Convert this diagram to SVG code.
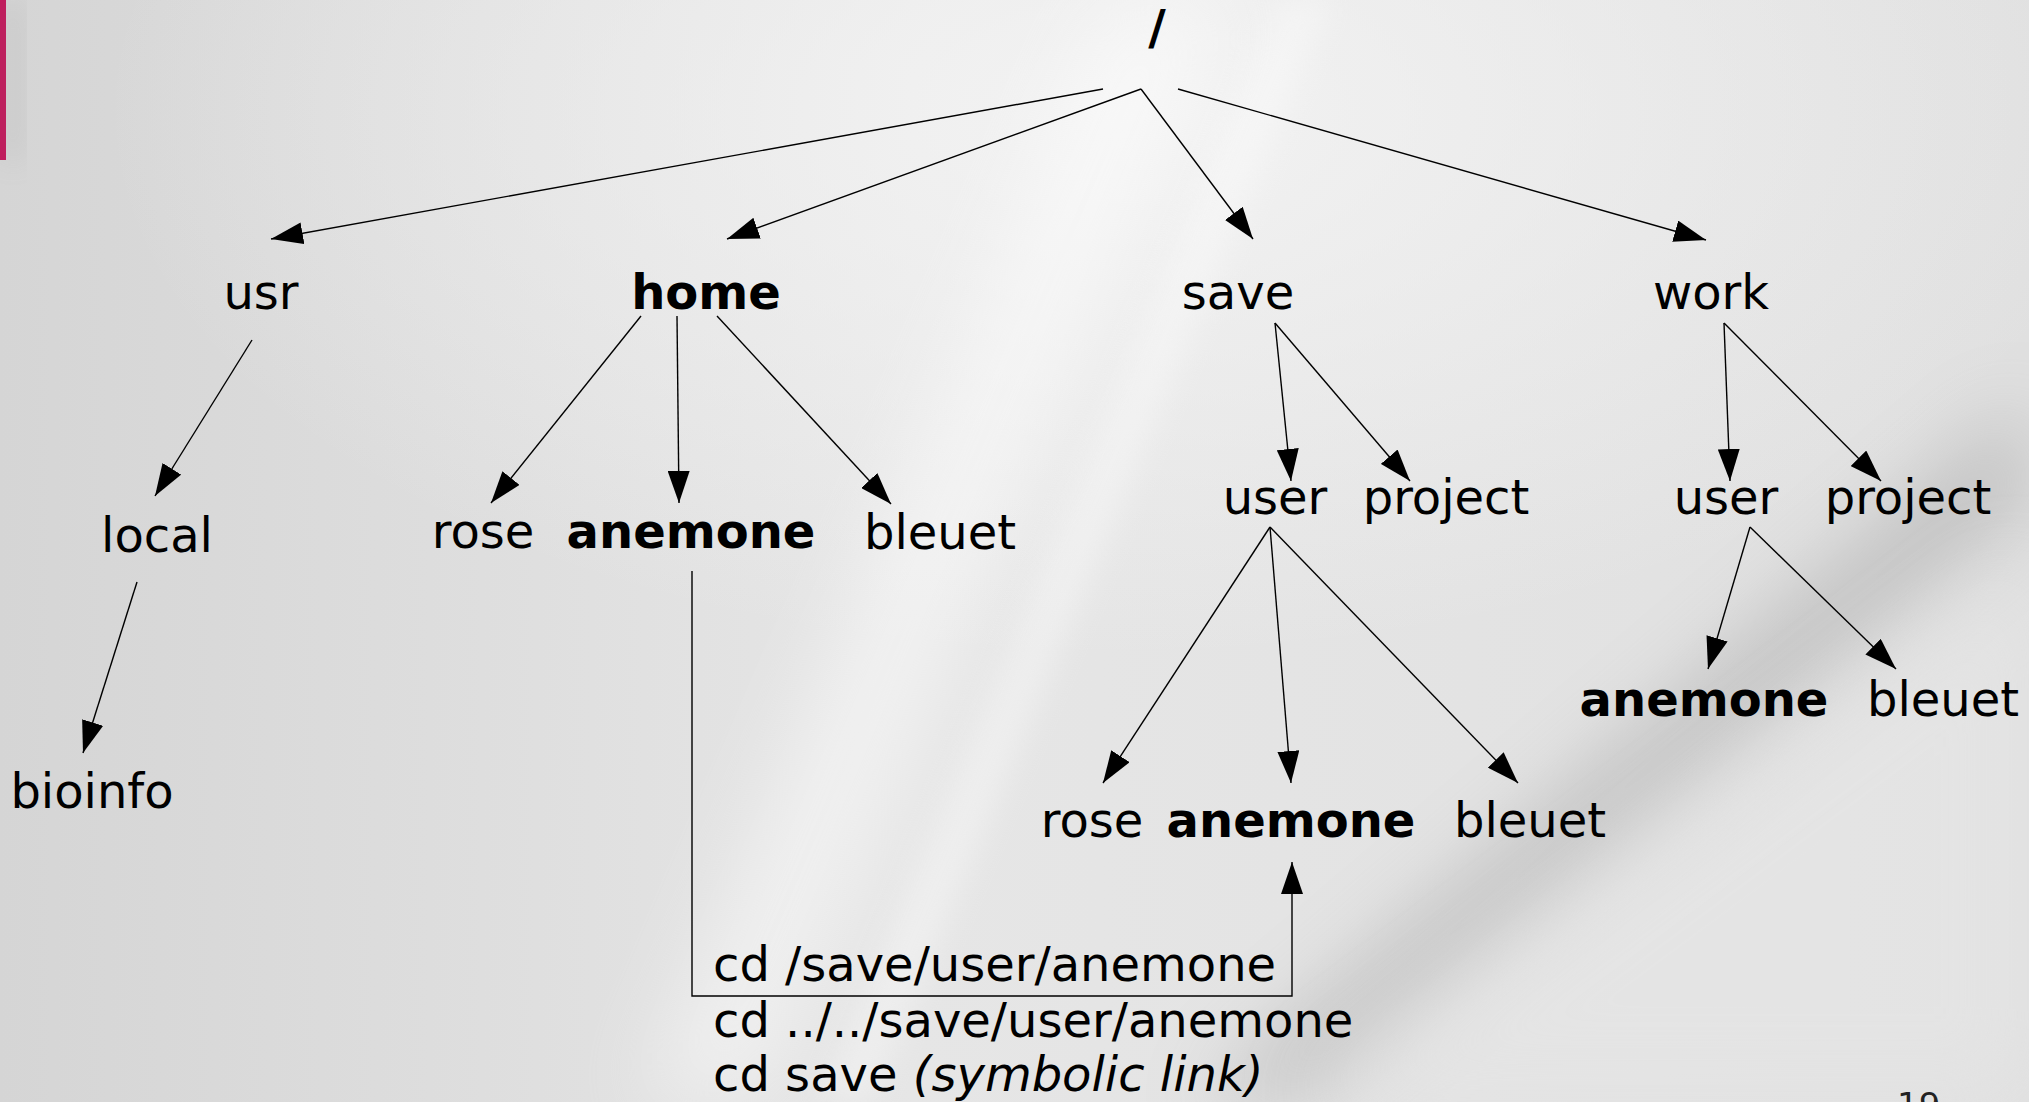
<svg xmlns="http://www.w3.org/2000/svg" width="2029" height="1102" viewBox="0 0 2029 1102">
  <defs>
    <linearGradient id="bg" x1="0" y1="0" x2="1" y2="0">
      <stop offset="0" stop-color="#d5d5d5"/>
      <stop offset="0.45" stop-color="#e6e6e6"/>
      <stop offset="1" stop-color="#e0e0e0"/>
    </linearGradient>
    <radialGradient id="glow" cx="0.55" cy="0.1" r="0.5">
      <stop offset="0" stop-color="#f4f4f4" stop-opacity="0.9"/>
      <stop offset="1" stop-color="#f4f4f4" stop-opacity="0"/>
    </radialGradient>
    <filter id="blur40" x="-50%" y="-50%" width="200%" height="200%">
      <feGaussianBlur stdDeviation="40"/>
    </filter>
    <filter id="blur15" x="-50%" y="-50%" width="200%" height="200%">
      <feGaussianBlur stdDeviation="15"/>
    </filter>
    <marker id="arrow" markerUnits="userSpaceOnUse" markerWidth="32" markerHeight="22" refX="32" refY="11" orient="auto" viewBox="0 0 32 22">
      <path d="M0,0 L32,11 L0,22 z" fill="#000"/>
    </marker>
    <style>
      .lbl { font-family: "DejaVu Sans", "Noto Sans", sans-serif; font-size: 48px; fill: #000; text-anchor: middle; }
      .bold { font-weight: bold; }
      .cmd { font-family: "DejaVu Sans", "Noto Sans", sans-serif; font-size: 48px; fill: #000; }
      .edge { stroke: #000; stroke-width: 1.4; fill: none; marker-end: url(#arrow); }
    </style>
  </defs>

  <g id="background">
    <rect x="0" y="0" width="2029" height="1102" fill="url(#bg)"/>
    <rect x="0" y="0" width="2029" height="1102" fill="url(#glow)"/>
    <polygon points="640,1102 760,1102 1230,0 1110,0" fill="#ffffff" opacity="0.45" filter="url(#blur40)"/>
    <polygon points="820,1102 870,1102 1330,0 1280,0" fill="#ffffff" opacity="0.35" filter="url(#blur15)"/>
    <polygon points="1200,1102 1300,1102 2029,500 2029,400" fill="#8a8a8a" opacity="0.4" filter="url(#blur40)"/>
    <polygon points="1300,1102 2029,1102 2029,560" fill="#e6e6e6" opacity="0.6" filter="url(#blur40)"/>
    <rect x="0" y="0" width="6" height="160" fill="#c2185b"/>
    <rect x="6" y="0" width="14" height="160" fill="#888" opacity="0.25" filter="url(#blur15)"/>
  </g>

  <g id="connectors">
    <line class="edge" x1="1103" y1="89" x2="271" y2="239"/>
    <line class="edge" x1="1141" y1="89" x2="727" y2="239"/>
    <line class="edge" x1="1141" y1="89" x2="1253" y2="239"/>
    <line class="edge" x1="1178" y1="89" x2="1706" y2="240"/>
    <line class="edge" x1="252" y1="340" x2="155" y2="496"/>
    <line class="edge" x1="137" y1="582" x2="83" y2="753"/>
    <line class="edge" x1="641" y1="316" x2="491" y2="503"/>
    <line class="edge" x1="677" y1="316" x2="679" y2="503"/>
    <line class="edge" x1="717" y1="316" x2="891" y2="504"/>
    <line class="edge" x1="1275" y1="323" x2="1291" y2="481"/>
    <line class="edge" x1="1275" y1="323" x2="1410" y2="481"/>
    <line class="edge" x1="1724" y1="323" x2="1730" y2="481"/>
    <line class="edge" x1="1724" y1="323" x2="1881" y2="481"/>
    <line class="edge" x1="1270" y1="527" x2="1103" y2="783"/>
    <line class="edge" x1="1270" y1="527" x2="1291" y2="783"/>
    <line class="edge" x1="1270" y1="527" x2="1518" y2="783"/>
    <line class="edge" x1="1750" y1="527" x2="1708" y2="669"/>
    <line class="edge" x1="1750" y1="527" x2="1896" y2="669"/>
    <path class="edge" stroke="#333" d="M692,571 V996 H1292 V862"/>
  </g>

  <g id="node-root"><text class="lbl bold" x="1157" y="44">/</text></g>
  <g id="node-usr"><text class="lbl" x="261" y="309">usr</text></g>
  <g id="node-home"><text class="lbl bold" x="706" y="309">home</text></g>
  <g id="node-save"><text class="lbl" x="1238" y="309">save</text></g>
  <g id="node-work"><text class="lbl" x="1711" y="309">work</text></g>
  <g id="node-local"><text class="lbl" x="157" y="552">local</text></g>
  <g id="node-bioinfo"><text class="lbl" x="92" y="808">bioinfo</text></g>
  <g id="node-home-rose"><text class="lbl" x="483" y="548">rose</text></g>
  <g id="node-home-anemone"><text class="lbl bold" x="691" y="548">anemone</text></g>
  <g id="node-home-bleuet"><text class="lbl" x="940" y="549">bleuet</text></g>
  <g id="node-save-user"><text class="lbl" x="1275" y="514">user</text></g>
  <g id="node-save-project"><text class="lbl" x="1446" y="514">project</text></g>
  <g id="node-work-user"><text class="lbl" x="1726" y="514">user</text></g>
  <g id="node-work-project"><text class="lbl" x="1908" y="514">project</text></g>
  <g id="node-save-user-rose"><text class="lbl" x="1092" y="837">rose</text></g>
  <g id="node-save-user-anemone"><text class="lbl bold" x="1291" y="837">anemone</text></g>
  <g id="node-save-user-bleuet"><text class="lbl" x="1530" y="837">bleuet</text></g>
  <g id="node-work-user-anemone"><text class="lbl bold" x="1704" y="716">anemone</text></g>
  <g id="node-work-user-bleuet"><text class="lbl" x="1943" y="716">bleuet</text></g>

  <g id="commands">
    <text class="cmd" x="713" y="981">cd /save/user/anemone</text>
    <text class="cmd" x="713" y="1037">cd ../../save/user/anemone</text>
    <text class="cmd" x="713" y="1091">cd save <tspan font-style="italic">(symbolic link)</tspan></text>
  </g>

  <g id="page-number">
    <text x="1897" y="1117" font-family="DejaVu Sans, sans-serif" font-size="34" fill="#222">19</text>
  </g>
</svg>
